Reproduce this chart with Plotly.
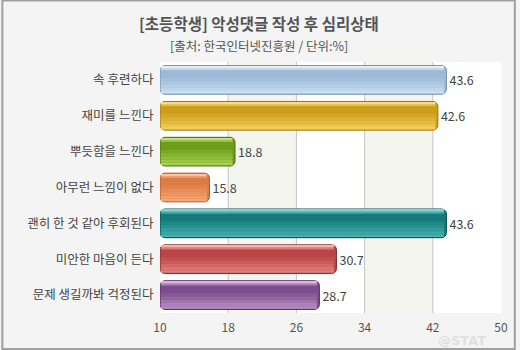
import plotly.graph_objects as go

categories = ["속 후련하다", "재미를 느낀다", "뿌듯함을 느낀다", "아무런 느낌이 없다",
              "괜히 한 것 같아 후회된다", "미안한 마음이 든다", "문제 생길까봐 걱정된다"]
values = [43.6, 42.6, 18.8, 15.8, 43.6, 30.7, 28.7]
tick_vals = [10, 18, 26, 34, 42, 50]

mid_colors = ["#9db9d5", "#cc9e1c", "#6e9c1c", "#dc7c44", "#137c7a", "#bb4444", "#7c4c8c"]
low_colors = ["#c6ddf2", "#f4cc58", "#a6d24e", "#f8a676", "#48b0b0", "#e47e7e", "#b68ec6"]
top_colors = ["#e2eef8", "#f6dc84", "#c4e07e", "#fbc49e", "#86cece", "#f6b0b0", "#dab4e2"]
line_colors = ["#7890a8", "#987818", "#507010", "#b05828", "#085050", "#803030", "#583068"]

base = 10
FONT = "Noto Sans CJK KR"


def blend(c1, c2, t):
    a = [int(c1[i:i + 2], 16) for i in (1, 3, 5)]
    b = [int(c2[i:i + 2], 16) for i in (1, 3, 5)]
    return "#%02x%02x%02x" % tuple(round(x + (y - x) * t) for x, y in zip(a, b))


fig = go.Figure()
# main bar
fig.add_trace(go.Bar(
    y=categories, x=[v - base for v in values], base=base, orientation="h",
    width=0.8, marker=dict(color=mid_colors, line=dict(color=line_colors, width=1), cornerradius=5),
    text=[f"{v:.1f}" for v in values], textposition="outside",
    textfont=dict(family=FONT, size=12.5, color="#444444"), cliponaxis=False,
    hoverinfo="skip", showlegend=False))

# gradient bands (offset, width, blend from mid to low / top)
bands = [
    (-0.05, 0.09, "low", 0.2),
    (0.04, 0.09, "low", 0.4),
    (0.13, 0.09, "low", 0.6),
    (0.22, 0.09, "low", 0.8),
    (0.31, 0.07, "low", 1.0),
    (-0.33, 0.06, "top", 0.5),
    (-0.375, 0.05, "top", 1.0),
]
for off, w, kind, t in bands:
    target = low_colors if kind == "low" else top_colors
    cols = [blend(m, c, t) for m, c in zip(mid_colors, target)]
    rad = 4 if w > 0.07 else 2
    fig.add_trace(go.Bar(
        y=categories, x=[v - base - 0.35 for v in values], base=base + 0.08, orientation="h",
        width=w, offset=off, marker=dict(color=cols, line=dict(width=0), cornerradius=rad),
        hoverinfo="skip", showlegend=False))

shapes = []
for a, b in [(18, 26), (34, 42)]:
    shapes.append(dict(type="rect", xref="x", yref="paper", x0=a, x1=b, y0=0, y1=1,
                       fillcolor="#f5f5f0", line=dict(width=0), layer="below"))
for t in tick_vals[1:-1]:
    shapes.append(dict(type="line", xref="x", yref="paper", x0=t, x1=t, y0=0, y1=1,
                       line=dict(color="#c4c4c4", width=1), layer="below"))
pw, ph = 345, 251
shapes.append(dict(type="rect", xref="paper", yref="paper",
                   x0=-160 / pw + 0.5 / pw, x1=1 + 15 / pw - 1 / pw,
                   y0=-37 / ph + 1 / ph, y1=1 + 62 / ph - 0.5 / ph,
                   line=dict(color="#a0a0a0", width=2), layer="above"))

fig.update_layout(
    width=520, height=350,
    margin=dict(l=160, r=15, t=62, b=37),
    paper_bgcolor="#f4f4f4", plot_bgcolor="#ffffff",
    barmode="overlay", bargap=0.2,
    shapes=shapes,
    xaxis=dict(range=[10, 50], tickvals=tick_vals, showgrid=False, zeroline=False,
               tickfont=dict(family=FONT, size=12, color="#555555"), ticks="", showline=False,
               ticklabelstandoff=6),
    yaxis=dict(categoryorder="array", categoryarray=categories, autorange="reversed",
               tickfont=dict(family=FONT, size=12.5, color="#444444"), ticks="", showline=False,
               ticksuffix="  ", showgrid=False),
    annotations=[
        dict(text="<b>[초등학생] 악성댓글 작성 후 심리상태</b>", xref="paper", yref="paper",
             x=(260 - 160) / pw, y=1 + 39 / ph, xanchor="center", yanchor="middle", showarrow=False,
             font=dict(family=FONT, size=15.5, color="#555555")),
        dict(text="[출처: 한국인터넷진흥원 / 단위:%]", xref="paper", yref="paper",
             x=(260 - 160) / pw, y=1 + 17 / ph, xanchor="center", yanchor="middle", showarrow=False,
             font=dict(family=FONT, size=12.5, color="#555555")),
        dict(text="<b>@STAT</b>", xref="paper", yref="paper",
             x=(466 - 160) / pw, y=-27 / ph, xanchor="center", yanchor="middle", showarrow=False,
             font=dict(family="DejaVu Sans", size=13, color="rgba(205,205,205,0.55)")),
    ],
)

fig.write_html("out.html")
